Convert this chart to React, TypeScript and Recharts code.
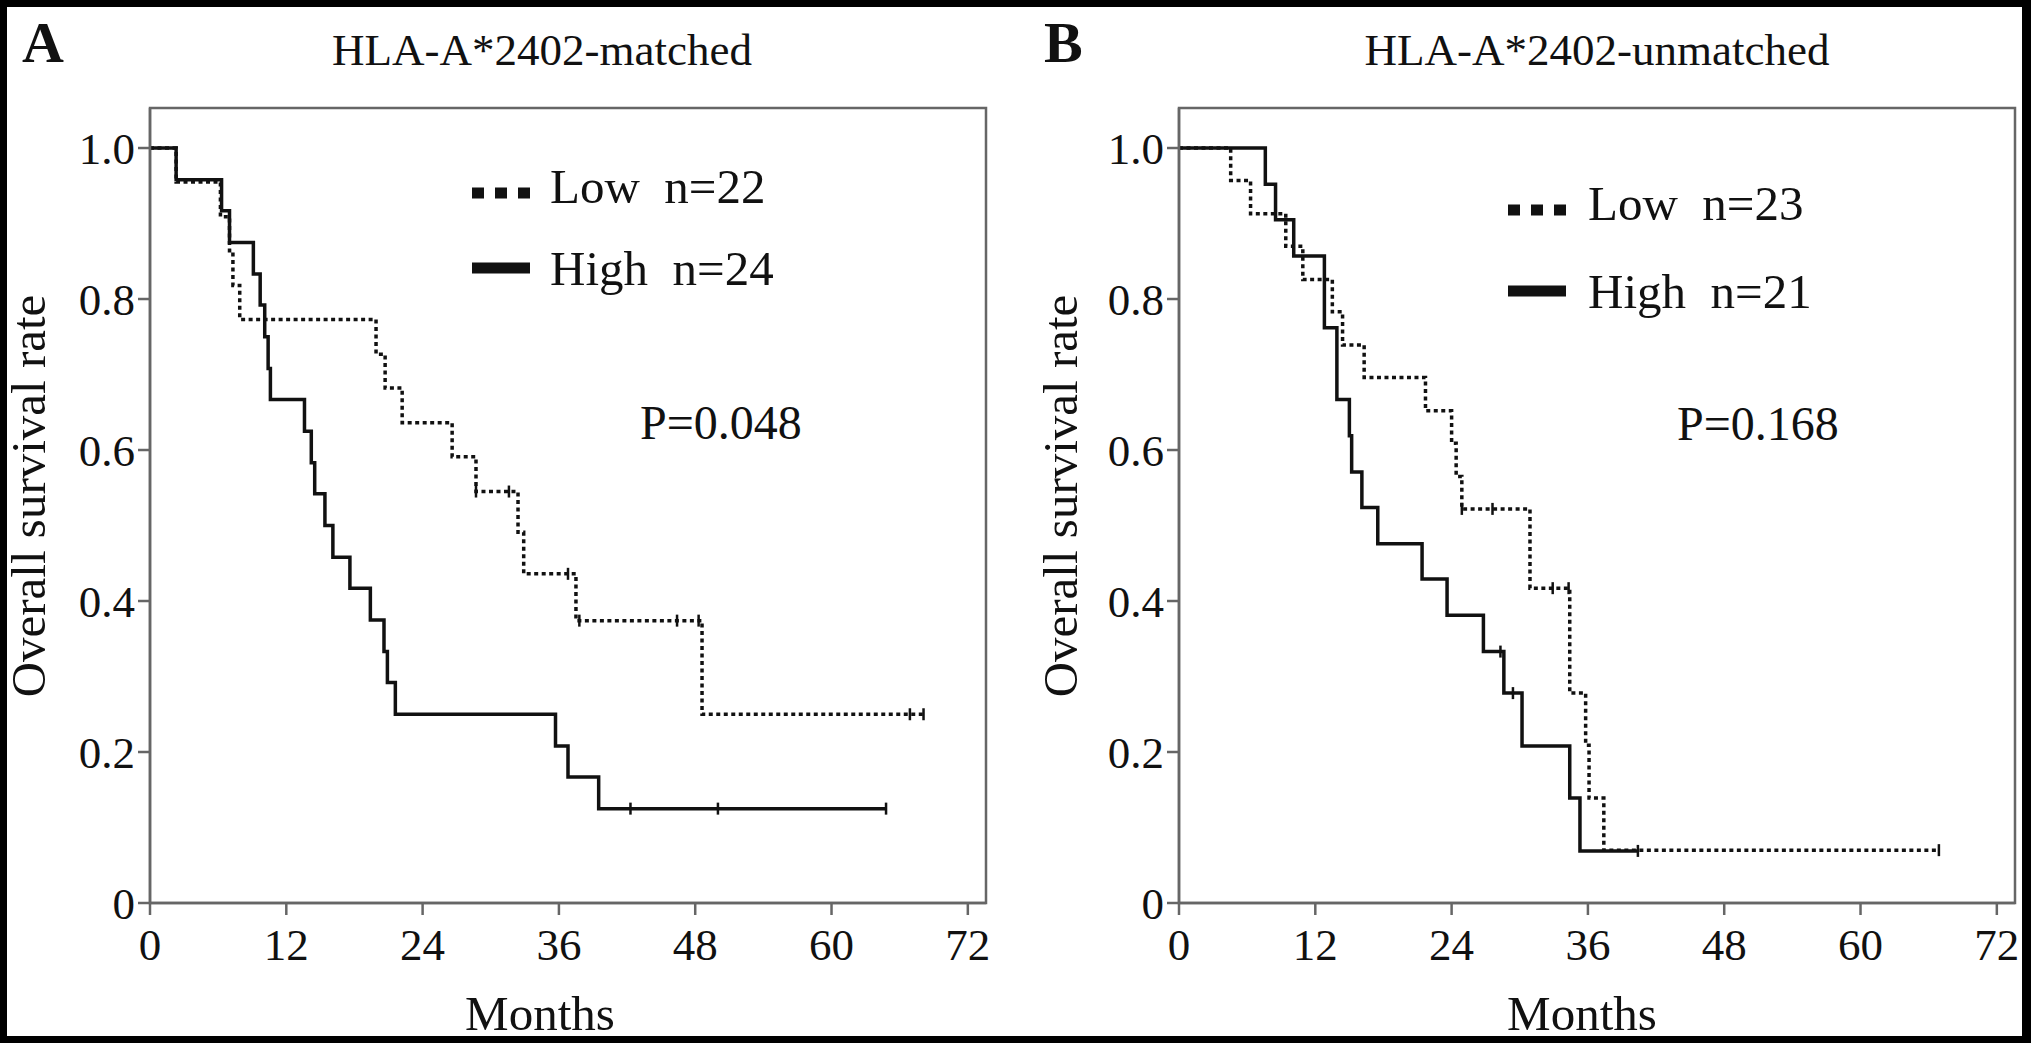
import { ComposedChart, Line, Scatter, XAxis, YAxis, ReferenceArea } from 'recharts'

// panel A, HLA-A*2402-matched
const A_LOW_T = [0, 2.3, 6.2, 7.0, 7.3, 7.9, 19.9, 20.7, 22.2, 26.6, 28.7, 32.4, 32.9, 37.5, 48.6, 68.1]
const A_LOW_S = [1, 0.955, 0.909, 0.864, 0.818, 0.773, 0.727, 0.682, 0.636, 0.591, 0.545, 0.491, 0.436, 0.374, 0.25, 0.25]
const A_LOW_CENSOR = [28.7, 31.6, 36.8, 37.8, 46.4, 48.3, 66.9, 68.1]
const A_HIGH_T = [0, 2.3, 6.3, 7.0, 9.1, 9.7, 10.1, 10.4, 10.6, 13.6, 14.2, 14.5, 15.4, 16.1, 17.6, 19.4, 20.6, 20.9, 21.6, 35.7, 36.8, 39.5, 64.8]
const A_HIGH_S = [1, 0.958, 0.917, 0.875, 0.833, 0.792, 0.75, 0.708, 0.667, 0.625, 0.583, 0.542, 0.5, 0.458, 0.417, 0.375, 0.333, 0.292, 0.25, 0.208, 0.167, 0.125, 0.125]
const A_HIGH_CENSOR = [42.3, 50.0, 64.8]

// panel B, HLA-A*2402-unmatched
const B_LOW_T = [0, 4.55, 6.3, 9.4, 10.9, 13.5, 14.4, 16.3, 21.7, 24.0, 24.4, 24.9, 30.9, 34.4, 35.8, 36.1, 37.4, 66.9]
const B_LOW_S = [1, 0.957, 0.913, 0.87, 0.826, 0.783, 0.739, 0.696, 0.652, 0.609, 0.565, 0.522, 0.417, 0.278, 0.209, 0.139, 0.07, 0.07]
const B_LOW_CENSOR = [24.9, 27.6, 32.9, 34.3, 66.9]
const B_HIGH_T = [0, 7.6, 8.5, 10.1, 12.8, 13.9, 15.0, 15.2, 16.1, 17.5, 21.4, 23.6, 26.8, 28.6, 30.2, 34.4, 35.3, 40.4]
const B_HIGH_S = [1, 0.952, 0.905, 0.857, 0.762, 0.667, 0.619, 0.571, 0.524, 0.476, 0.429, 0.381, 0.333, 0.278, 0.208, 0.139, 0.069, 0.069]
const B_HIGH_CENSOR = [28.3, 29.4, 40.4]

const MONTH_TICKS = [0, 12, 24, 36, 48, 60, 72]
const RATE_TICKS = [0, 0.2, 0.4, 0.6, 0.8, 1.0]

const FONT = '"Liberation Serif", "DejaVu Serif", serif'
const AXIS = '#666'
const INK = '#111'
const X_MAX = 73.6
const Y_MAX = 1.053

type Pt = { t: number; s: number }

function toSteps(times: number[], values: number[]): Pt[] {
    return times.map((t, i) => ({ t, s: values[i] }))
}

// censor marks sit on the curve level at that time
function censorPoints(censor: number[], times: number[], values: number[]): Pt[] {
    return censor.map((c) => {
        let idx = 0
        for (let i = 0; i < times.length; i += 1) {
            if (times[i] <= c) idx = i
        }
        return { t: c, s: values[idx] }
    })
}

function CensorTick(props: any) {
    const { cx, cy } = props
    if (cx == null || cy == null) return null
    return <line x1={cx} x2={cx} y1={cy - 6} y2={cy + 6} stroke={INK} strokeWidth={2.5} />
}

type PanelProps = {
    left: number
    letter: string
    title: string
    titleX: number
    pValue: string
    pX: number
    pY: number
    lowLabel: string
    highLabel: string
    legendX: number
    legendTextX: number
    legendY: [number, number]
    monthsX: number
    yLabelX: number
    low: Pt[]
    high: Pt[]
    lowCensor: Pt[]
    highCensor: Pt[]
}

function Panel(p: PanelProps) {
    const [lowBase, highBase] = p.legendY
    return (
        <div style={{ position: 'absolute', left: p.left, top: 0, width: 1015, height: 1043 }}>
            <ComposedChart
                width={1015}
                height={1043}
                margin={{ top: 108, right: 29, bottom: 80, left: 90 }}
                style={{ fontFamily: FONT }}
            >
                <XAxis
                    dataKey="t"
                    type="number"
                    domain={[0, X_MAX]}
                    ticks={MONTH_TICKS}
                    height={60}
                    tickSize={12}
                    tickMargin={13}
                    stroke={AXIS}
                    strokeWidth={2.5}
                    tick={{ fill: INK, fontSize: 45, fontFamily: FONT }}
                    allowDataOverflow
                />
                <YAxis
                    type="number"
                    domain={[0, Y_MAX]}
                    ticks={RATE_TICKS}
                    width={60}
                    tickSize={12}
                    tickMargin={3}
                    stroke={AXIS}
                    strokeWidth={2.5}
                    tick={{ fill: INK, fontSize: 45, fontFamily: FONT }}
                    tickFormatter={(v: number) => (v === 0 ? '0' : v.toFixed(1))}
                    allowDataOverflow
                />
                <ReferenceArea x1={0} x2={X_MAX} y1={0} y2={Y_MAX} fill="none" stroke={AXIS} strokeWidth={2.5} />
                <Line
                    data={p.low}
                    dataKey="s"
                    type="stepAfter"
                    stroke={INK}
                    strokeWidth={3.5}
                    strokeDasharray="4 3.5"
                    dot={false}
                    activeDot={false}
                    isAnimationActive={false}
                />
                <Line
                    data={p.high}
                    dataKey="s"
                    type="stepAfter"
                    stroke={INK}
                    strokeWidth={3.5}
                    dot={false}
                    activeDot={false}
                    isAnimationActive={false}
                />
                <Scatter data={p.lowCensor} dataKey="s" shape={CensorTick} isAnimationActive={false} />
                <Scatter data={p.highCensor} dataKey="s" shape={CensorTick} isAnimationActive={false} />
            </ComposedChart>
            <svg
                width={1015}
                height={1043}
                style={{ position: 'absolute', left: 0, top: 0, pointerEvents: 'none', fontFamily: FONT }}
            >
                <text x={p.letter === 'A' ? 22 : 15} y={62} fontSize={58} fontWeight="bold" fill={INK}>
                    {p.letter}
                </text>
                <text x={p.titleX} y={65} fontSize={45} textAnchor="middle" fill={INK}>
                    {p.title}
                </text>
                <text x={p.pX} y={p.pY} fontSize={48} fill={INK}>
                    {p.pValue}
                </text>
                <line
                    x1={p.legendX}
                    x2={p.legendX + 58}
                    y1={lowBase - 10}
                    y2={lowBase - 10}
                    stroke={INK}
                    strokeWidth={11}
                    strokeDasharray="12 11"
                />
                <text x={p.legendTextX} y={lowBase} fontSize={49} fill={INK} style={{ whiteSpace: 'pre' }}>
                    {p.lowLabel}
                </text>
                <line
                    x1={p.legendX}
                    x2={p.legendX + 58}
                    y1={highBase - 17}
                    y2={highBase - 17}
                    stroke={INK}
                    strokeWidth={11}
                />
                <text x={p.legendTextX} y={highBase} fontSize={49} fill={INK} style={{ whiteSpace: 'pre' }}>
                    {p.highLabel}
                </text>
                <text x={p.monthsX} y={1030} fontSize={49} textAnchor="middle" fill={INK}>
                    Months
                </text>
                <text
                    transform={`translate(${p.yLabelX}, 496) rotate(-90)`}
                    fontSize={49}
                    textAnchor="middle"
                    fill={INK}
                >
                    Overall survival rate
                </text>
            </svg>
        </div>
    )
}

export default function App() {
    const border = { position: 'absolute' as const, background: '#000' }
    return (
        <div style={{ position: 'relative', width: 2031, height: 1043, background: '#fff', overflow: 'hidden' }}>
            <style>{'body{margin:0}'}</style>
            <Panel
                left={0}
                letter="A"
                title="HLA-A*2402-matched"
                titleX={542}
                pValue="P=0.048"
                pX={640}
                pY={439}
                lowLabel="Low  n=22"
                highLabel="High  n=24"
                legendX={472}
                legendTextX={550}
                legendY={[203, 285]}
                monthsX={540}
                yLabelX={45}
                low={toSteps(A_LOW_T, A_LOW_S)}
                high={toSteps(A_HIGH_T, A_HIGH_S)}
                lowCensor={censorPoints(A_LOW_CENSOR, A_LOW_T, A_LOW_S)}
                highCensor={censorPoints(A_HIGH_CENSOR, A_HIGH_T, A_HIGH_S)}
            />
            <Panel
                left={1029}
                letter="B"
                title="HLA-A*2402-unmatched"
                titleX={568}
                pValue="P=0.168"
                pX={648}
                pY={440}
                lowLabel="Low  n=23"
                highLabel="High  n=21"
                legendX={479}
                legendTextX={559}
                legendY={[220, 308]}
                monthsX={553}
                yLabelX={48}
                low={toSteps(B_LOW_T, B_LOW_S)}
                high={toSteps(B_HIGH_T, B_HIGH_S)}
                lowCensor={censorPoints(B_LOW_CENSOR, B_LOW_T, B_LOW_S)}
                highCensor={censorPoints(B_HIGH_CENSOR, B_HIGH_T, B_HIGH_S)}
            />
            <div style={{ ...border, left: 0, top: 0, width: 2031, height: 7 }} />
            <div style={{ ...border, left: 0, top: 0, width: 7, height: 1043 }} />
            <div style={{ ...border, left: 2022, top: 0, width: 9, height: 1043 }} />
            <div style={{ ...border, left: 0, top: 1036, width: 2031, height: 7 }} />
        </div>
    )
}
